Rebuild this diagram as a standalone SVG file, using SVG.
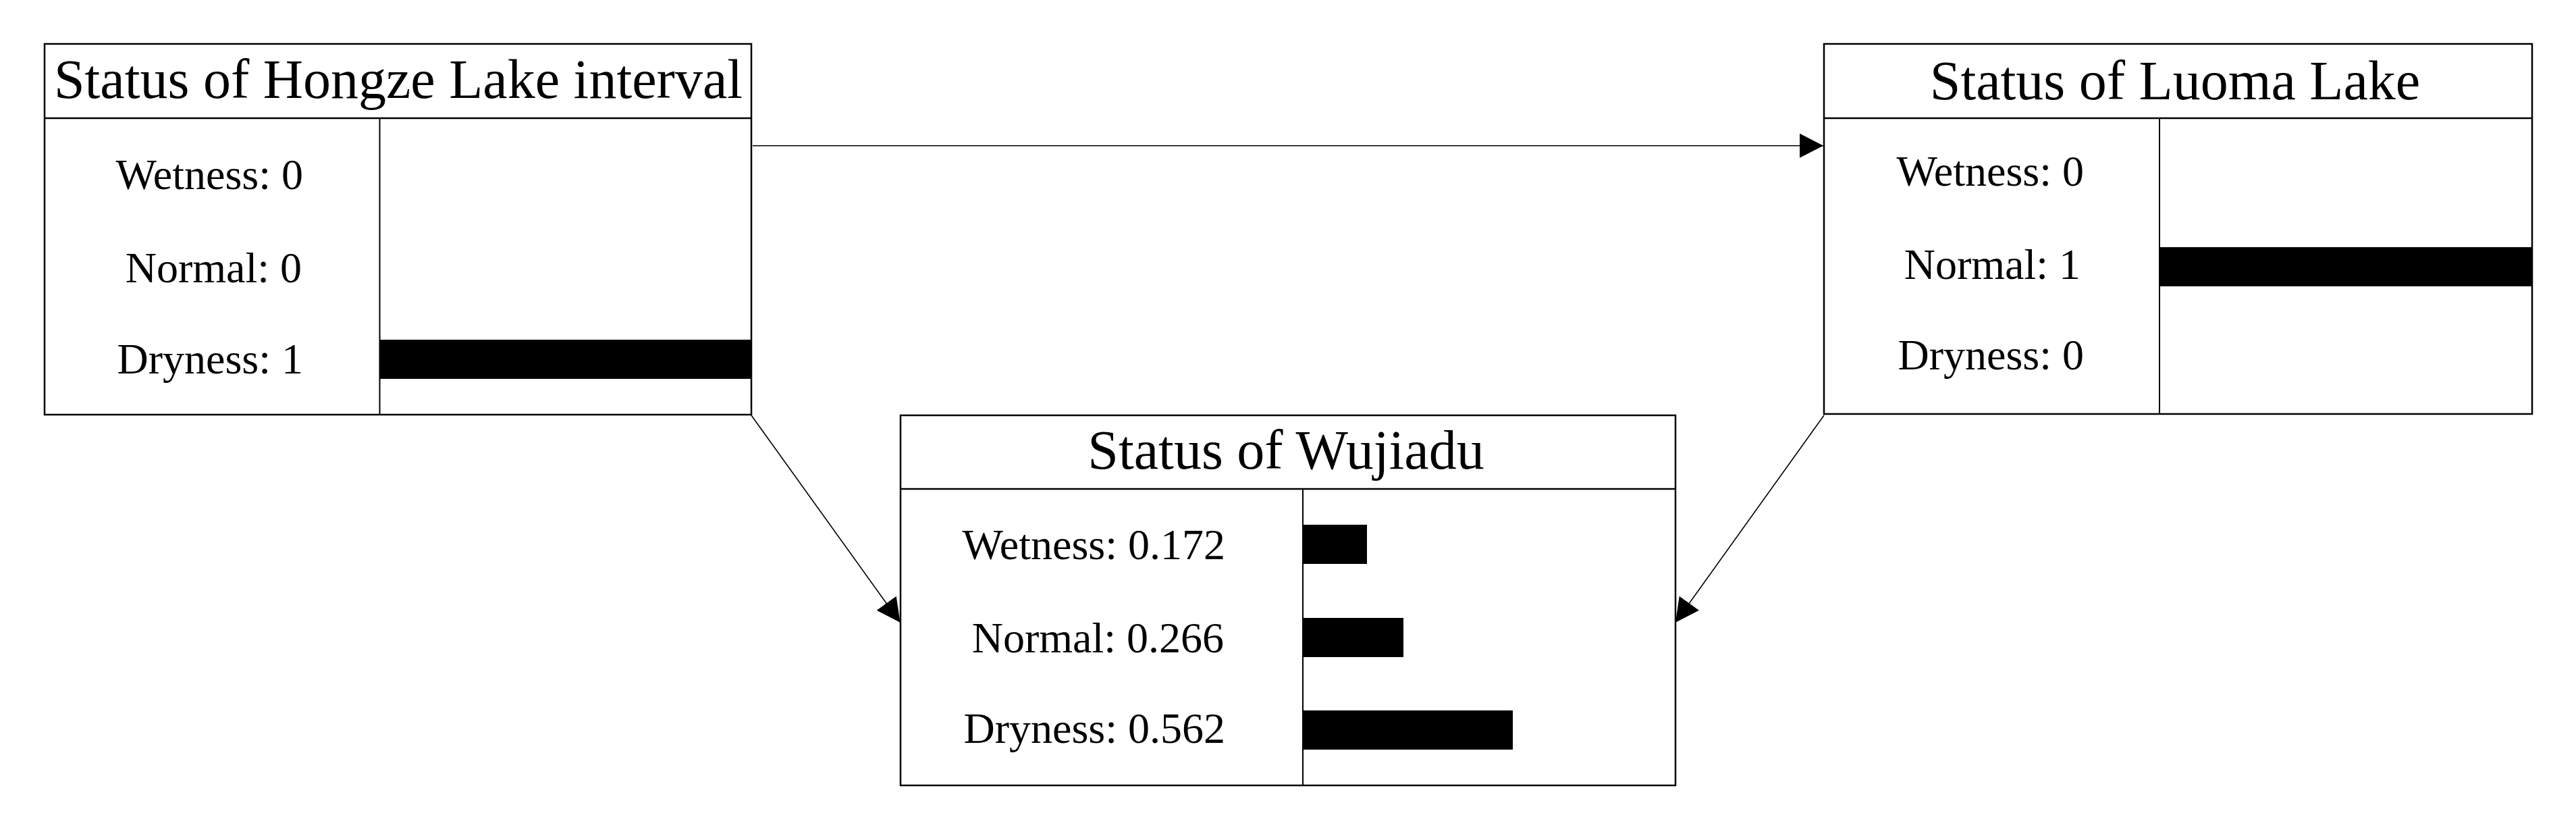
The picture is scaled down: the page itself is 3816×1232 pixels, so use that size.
<svg xmlns="http://www.w3.org/2000/svg" width="3816" height="1232" viewBox="0 0 3816 1232">
<style>
.box{fill:#fff;stroke:#000;stroke-width:2.5}
.sep{stroke:#000;stroke-width:2.5}
.div{stroke:#000;stroke-width:2}
.bar{fill:#000}
.title{font-family:"Liberation Serif","Times New Roman",serif;font-size:82px;fill:#000;text-anchor:middle}
.lbl{font-family:"Liberation Serif","Times New Roman",serif;font-size:64px;fill:#000;text-anchor:end}
.edge{stroke:#000;stroke-width:1.6;fill:none}
</style>
<defs>
<marker id="arr" markerUnits="userSpaceOnUse" viewBox="0 0 35 36" refX="35" refY="18" markerWidth="35" markerHeight="36" orient="auto">
<path d="M0,0 L35,18 L0,36 Z" fill="#000"/>
</marker>
</defs>
<rect width="3816" height="1232" fill="#fff"/>
<g id="connectors">
<line class="edge" x1="1115" y1="215.7" x2="2701" y2="215.7" marker-end="url(#arr)"/>
<line class="edge" x1="1113" y1="615" x2="1333.5" y2="921.7" marker-end="url(#arr)"/>
<line class="edge" x1="2702" y1="615" x2="2482" y2="921.7" marker-end="url(#arr)"/>
</g>
<g id="node-hongze">
<rect class="box" x="66" y="65" width="1047" height="549"/>
<line class="sep" x1="66" y1="175" x2="1113" y2="175"/>
<line class="div" x1="562.5" y1="175" x2="562.5" y2="614"/>
<rect class="bar" x="563" y="503" width="550" height="58"/>
<text class="title" x="590" y="145">Status of Hongze Lake interval</text>
<text class="lbl" x="449" y="280">Wetness: 0</text>
<text class="lbl" x="447" y="418">Normal: 0</text>
<text class="lbl" x="449" y="553">Dryness: 1</text>
</g>
<g id="node-luoma">
<rect class="box" x="2702" y="65" width="1049" height="548"/>
<line class="sep" x1="2702" y1="175" x2="3751" y2="175"/>
<line class="div" x1="3199" y1="175" x2="3199" y2="613"/>
<rect class="bar" x="3199" y="366" width="552" height="58"/>
<text class="title" x="3222" y="147">Status of Luoma Lake</text>
<text class="lbl" x="3087" y="275">Wetness: 0</text>
<text class="lbl" x="3082" y="413">Normal: 1</text>
<text class="lbl" x="3087" y="547">Dryness: 0</text>
</g>
<g id="node-wujiadu">
<rect class="box" x="1334" y="615" width="1148" height="548"/>
<line class="sep" x1="1334" y1="724" x2="2482" y2="724"/>
<line class="div" x1="1930" y1="724" x2="1930" y2="1163"/>
<rect class="bar" x="1930" y="777" width="95" height="58"/>
<rect class="bar" x="1930" y="915" width="149" height="58"/>
<rect class="bar" x="1930" y="1052" width="311" height="58"/>
<text class="title" x="1905" y="694">Status of Wujiadu</text>
<text class="lbl" x="1815" y="828">Wetness: 0.172</text>
<text class="lbl" x="1813" y="966">Normal: 0.266</text>
<text class="lbl" x="1815" y="1100">Dryness: 0.562</text>
</g>
</svg>
